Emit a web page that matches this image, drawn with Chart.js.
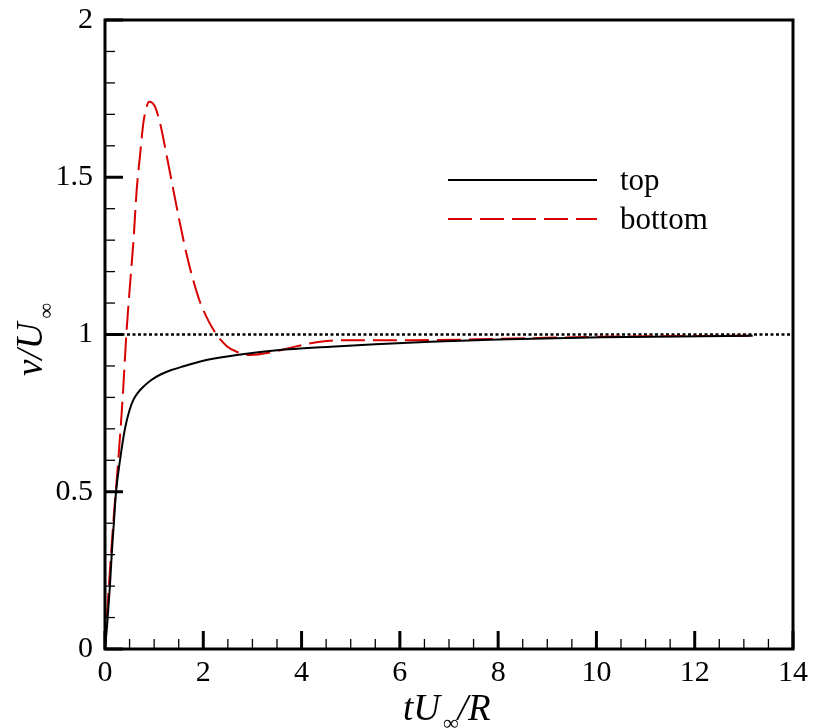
<!DOCTYPE html>
<html>
<head>
<meta charset="utf-8">
<script src="https://cdn.jsdelivr.net/npm/chart.js@4/dist/chart.umd.min.js"></script>
<style>
html,body{margin:0;padding:0;background:#fff;}
#wrap{width:822px;height:728px;position:relative;}
</style>
</head>
<body>
<div id="wrap"><canvas id="c" width="822" height="728"></canvas></div>
<script>
// ---- data ----
const topT = [0, 0.05, 0.1, 0.136, 0.18, 0.224, 0.306, 0.408, 0.5, 0.577, 0.68, 0.78, 0.95, 1.12, 1.35, 1.6, 1.85, 2.14, 2.68, 3.5, 4.59, 5.5, 6.62, 8, 10.1, 13.18];
const topV = [0, 0.09, 0.2, 0.299, 0.40, 0.498, 0.601, 0.702, 0.76, 0.792, 0.817, 0.834, 0.856, 0.872, 0.887, 0.899, 0.910, 0.921, 0.935, 0.95, 0.961, 0.969, 0.977, 0.984, 0.991, 0.996];
const bottomT = [0, 0.03, 0.17, 0.27, 0.36, 0.44, 0.50, 0.58, 0.645, 0.71, 0.78, 0.85, 0.90, 0.96, 1.02, 1.12, 1.26, 1.39, 1.53, 1.66, 1.80, 1.93, 2.10, 2.27, 2.48, 2.68, 2.95, 3.43, 3.91, 4.38, 4.93, 5.6, 6.28, 8, 10.09, 13.18];
const bottomV = [0, 0.08, 0.405, 0.60, 0.80, 1.014, 1.14, 1.30, 1.46, 1.565, 1.672, 1.725, 1.740, 1.737, 1.724, 1.672, 1.565, 1.46, 1.350, 1.255, 1.170, 1.105, 1.045, 1.000, 0.963, 0.945, 0.935, 0.945, 0.963, 0.977, 0.982, 0.982, 0.982, 0.986, 0.993, 0.996];
const refT = [0, 14];
const refV = [1, 1];
const seriesLabels = ['top', 'bottom'];
const xRange = [0, 14];
const yRange = [0, 2];
const xMajorStep = 2, xMinorStep = 0.5;
const yMajorStep = 0.5, yMinorStep = 0.1;
const xTitleParts = ['tU', '\u221E', '/R'];
const yTitleParts = ['v/U', '\u221E'];

const pts = (xs, ys) => xs.map((x, i) => ({x: x, y: ys[i]}));
const SERIF = "'Liberation Serif','Times New Roman',serif";

const axesPlugin = {
  id: 'axesPlugin',
  afterDraw(chart) {
    const ctx = chart.ctx;
    const a = chart.chartArea;
    const xs = chart.scales.x, ys = chart.scales.y;
    ctx.save();
    ctx.strokeStyle = '#000';
    // box
    ctx.lineWidth = 3;
    ctx.strokeRect(a.left, a.top, a.right - a.left, a.bottom - a.top);
    // x ticks
    const nX = Math.round((xRange[1] - xRange[0]) / xMinorStep);
    for (let i = 0; i <= nX; i++) {
      const v = xRange[0] + i * xMinorStep;
      const px = xs.getPixelForValue(v);
      const major = Math.abs(v / xMajorStep - Math.round(v / xMajorStep)) < 1e-6;
      ctx.lineWidth = major ? 3 : 1.3;
      ctx.beginPath();
      ctx.moveTo(px, a.bottom);
      ctx.lineTo(px, a.bottom - (major ? 18 : 10));
      ctx.stroke();
    }
    const nY = Math.round((yRange[1] - yRange[0]) / yMinorStep);
    for (let i = 0; i <= nY; i++) {
      const v = yRange[0] + i * yMinorStep;
      const py = ys.getPixelForValue(v);
      const major = Math.abs(v / yMajorStep - Math.round(v / yMajorStep)) < 1e-6;
      ctx.lineWidth = major ? 3 : 1.3;
      ctx.beginPath();
      ctx.moveTo(a.left, py);
      ctx.lineTo(a.left + (major ? 18 : 10), py);
      ctx.stroke();
    }
    // legend
    const lg = chart.options.plugins.inLegend;
    ctx.font = lg.fontSize + 'px ' + SERIF;
    ctx.fillStyle = '#000';
    ctx.textBaseline = 'alphabetic';
    chart.data.datasets.forEach((ds, i) => {
      if (!ds.label || ds.hideInLegend) return;
      const y = lg.y0 + i * lg.dy;
      ctx.save();
      ctx.strokeStyle = ds.borderColor;
      ctx.lineWidth = ds.borderWidth;
      ctx.setLineDash(ds.borderDash || []);
      ctx.beginPath();
      ctx.moveTo(lg.x0, y);
      ctx.lineTo(lg.x1, y);
      ctx.stroke();
      ctx.restore();
      ctx.fillText(ds.label, lg.tx, y + lg.textDy);
    });
    // x title
    ctx.fillStyle = '#000';
    let x = 403, base = 720;
    ctx.font = 'italic 37px ' + SERIF;
    ctx.fillText(xTitleParts[0], x, base);
    x += ctx.measureText(xTitleParts[0]).width;
    ctx.font = '22px ' + SERIF;
    ctx.fillText(xTitleParts[1], x + 3, base + 10);
    x += ctx.measureText(xTitleParts[1]).width + 2;
    ctx.font = 'italic 37px ' + SERIF;
    ctx.fillText(xTitleParts[2], x, base);
    // y title
    ctx.save();
    ctx.translate(42, 376);
    ctx.rotate(-Math.PI / 2);
    ctx.font = 'italic 37px ' + SERIF;
    ctx.fillText(yTitleParts[0], 0, 0);
    let w = ctx.measureText(yTitleParts[0]).width;
    ctx.font = '22px ' + SERIF;
    ctx.fillText(yTitleParts[1], w + 4, 11);
    ctx.restore();
    ctx.restore();
  }
};

new Chart(document.getElementById('c'), {
  type: 'line',
  data: {
    datasets: [
      {label: seriesLabels[0], data: pts(topT, topV), borderColor: '#000', borderWidth: 2, pointRadius: 0, tension: 0.4, cubicInterpolationMode: 'monotone', fill: false},
      {label: seriesLabels[1], data: pts(bottomT, bottomV), borderColor: '#d80000', borderWidth: 2, borderDash: [24, 8], pointRadius: 0, tension: 0.4, cubicInterpolationMode: 'monotone', fill: false},
      {label: '', hideInLegend: true, data: pts(refT, refV), borderColor: '#000', borderWidth: 2.5, borderDash: [3, 2.5], pointRadius: 0, fill: false}
    ]
  },
  options: {
    responsive: false,
    animation: false,
    layout: {padding: {top: 20, right: 29, left: 0, bottom: 0}},
    plugins: {
      legend: {display: false},
      tooltip: {enabled: false},
      inLegend: {x0: 448, x1: 597, y0: 180, dy: 39, tx: 620, textDy: 10, fontSize: 31}
    },
    scales: {
      x: {
        type: 'linear', min: xRange[0], max: xRange[1],
        grid: {display: false, drawTicks: false},
        border: {display: false},
        ticks: {stepSize: xMajorStep, color: '#000', padding: 6, font: {family: SERIF, size: 30}, maxRotation: 0,
                callback: v => String(v)},
        afterFit(s) { s.height = 79; s.paddingLeft = 0; s.paddingRight = 0; }
      },
      y: {
        type: 'linear', min: yRange[0], max: yRange[1],
        grid: {display: false, drawTicks: false},
        border: {display: false},
        ticks: {stepSize: yMajorStep, color: '#000', padding: 12, font: {family: SERIF, size: 30},
                callback: v => String(v)},
        afterFit(s) { s.width = 105; s.paddingTop = 0; s.paddingBottom = 0; }
      }
    }
  },
  plugins: [axesPlugin]
});
</script>
</body>
</html>
